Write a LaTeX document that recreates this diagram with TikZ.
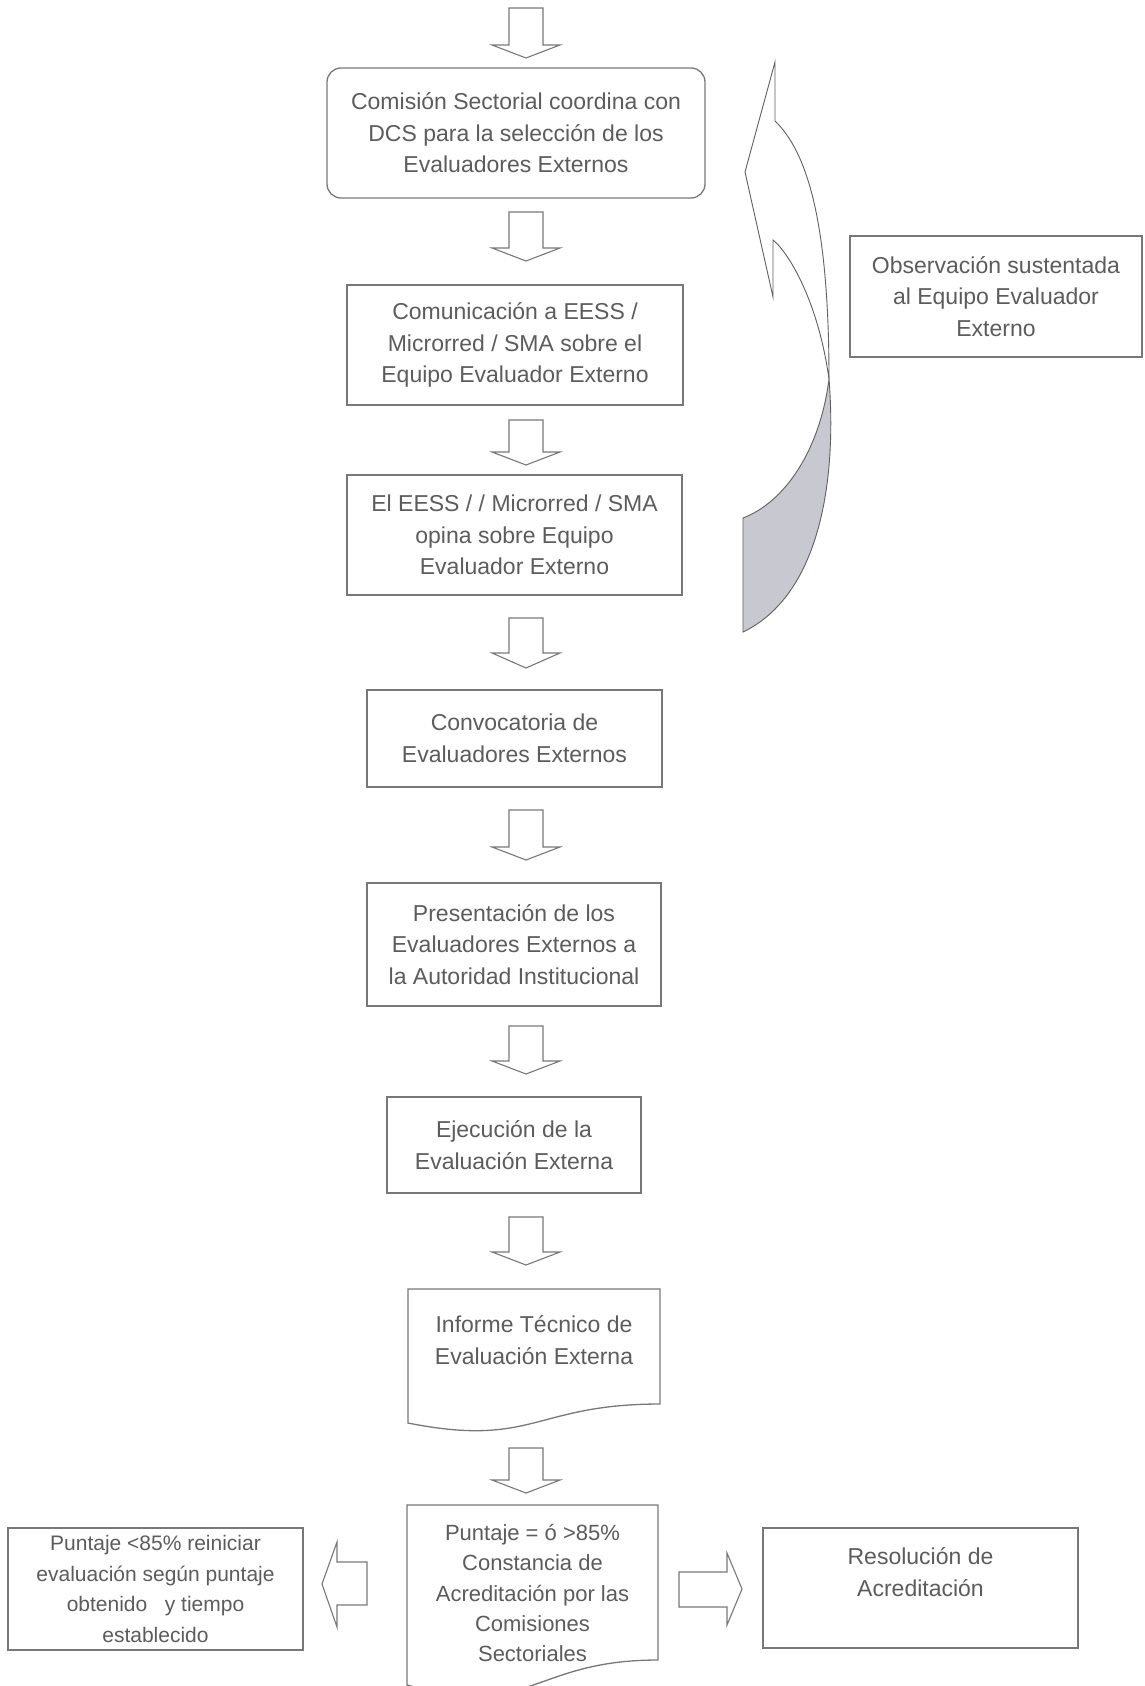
\documentclass[tikz,border=0pt]{standalone}
\usepackage{fontspec}
\setmainfont{Liberation Sans}
\definecolor{txtgray}{HTML}{5C5C5C}
\definecolor{linegray}{HTML}{787878}
\definecolor{shadegray}{HTML}{C8C8D0}
\newcommand\blockdown[4]{%
  \draw[blockarrow] ({#1-17},#2) -- ({#1+17},#2) -- ({#1+17},#3) -- ({#1+34},#3) -- (#1,#4) -- ({#1-34},#3) -- ({#1-17},#3) -- cycle;}
\tikzset{
  box/.style={draw=linegray, line width=1.3pt, fill=white, align=center, text=txtgray,
    inner sep=0pt, font=\fontsize{23}{31.5}\selectfont},
  plain/.style={align=center, text=txtgray, inner sep=0pt, font=\fontsize{23}{31.5}\selectfont},
  blockarrow/.style={draw=linegray, line width=1.1pt, fill=white, line join=miter},
  curvearrow/.style={draw=linegray!80!black, line width=0.9pt},
}
\begin{document}
\begin{tikzpicture}[x=1pt,y=-1pt]
\useasboundingbox (0,0) rectangle (1144,1686);
\fill[white] (0,0) rectangle (1144,1686);
\clip (0,0) rectangle (1144,1686);

% main column
\node[box, rounded corners=14pt, minimum width=378pt, minimum height=130pt] (b1) at (516,133)
  {Comisión Sectorial coordina con\\DCS para la selección de los\\Evaluadores Externos};
\node[box, minimum width=336pt, minimum height=120pt] (b2) at (515,345)
  {Comunicación a EESS /\\Microrred / SMA sobre el\\Equipo Evaluador Externo};
\node[box, minimum width=335pt, minimum height=120pt] (b3) at (514.5,535)
  {El EESS / / Microrred / SMA\\opina sobre Equipo\\Evaluador Externo};
\node[box, minimum width=295pt, minimum height=97pt] (b4) at (514.5,738.5)
  {Convocatoria de\\Evaluadores Externos};
\node[box, minimum width=294pt, minimum height=123pt] (b5) at (514,944.5)
  {Presentación de los\\Evaluadores Externos a\\la Autoridad Institucional};
\node[box, minimum width=254pt, minimum height=96pt] (b6) at (514,1145)
  {Ejecución de la\\Evaluación Externa};

% document shape: Informe
\draw[draw=linegray, line width=1.3pt, fill=white]
  (408,1289) -- (660,1289) -- (660,1404)
  .. controls (534,1404) and (534,1448) .. (408,1423) -- cycle;
\node[plain] (b7) at (534,1340) {Informe Técnico de\\Evaluación Externa};

% document shape: Puntaje
\draw[draw=linegray, line width=1.3pt, fill=white]
  (407,1505) -- (658,1505) -- (658,1660)
  .. controls (532.5,1660) and (532.5,1719) .. (407,1685) -- cycle;
\node[plain, font=\fontsize{22}{30.2}\selectfont] (b8) at (532.5,1593)
  {Puntaje = ó >85\%\\Constancia de\\Acreditación por las\\Comisiones\\Sectoriales};

% side boxes
\node[box, font=\fontsize{21}{30.6}\selectfont, minimum width=295pt, minimum height=122pt] (lft) at (155.5,1589)
  {Puntaje <85\% reiniciar\\evaluación según puntaje\\obtenido\ \ \ y tiempo\\establecido};
\node[box, minimum width=315pt, minimum height=120pt] (res) at (920.5,1588) {};
\node[plain] (restxt) at (920.5,1572) {Resolución de\\Acreditación};
\node[box, minimum width=292pt, minimum height=121pt] (obs) at (996,296.5)
  {Observación sustentada\\al Equipo Evaluador\\Externo};

% down block arrows
\blockdown{526}{8}{45}{58}
\blockdown{526}{212}{248}{261}
\blockdown{526}{420}{452}{465}
\blockdown{526}{618}{653}{668}
\blockdown{526}{810}{847}{860}
\blockdown{526}{1026}{1061}{1074}
\blockdown{526}{1217}{1252}{1265}
\blockdown{526}{1448}{1480}{1493}

% left and right block arrows
\draw[blockarrow] (367,1562) -- (337,1562) -- (337,1542) -- (322,1584) -- (337,1627) -- (337,1605) -- (367,1605) -- cycle;
\draw[blockarrow] (679,1572) -- (727,1572) -- (727,1553) -- (742,1589) -- (727,1625) -- (727,1607) -- (679,1607) -- cycle;

% curved return arrow
\draw[curvearrow, fill=white]
  (775,62) -- (775,121)
  .. controls (805,150) and (829,215) .. (829,379)
  .. controls (818,300) and (788,252) .. (773,240)
  -- (773,297) -- (745,172) -- cycle;
\draw[curvearrow, fill=shadegray]
  (743,518) .. controls (785,502) and (820,450) .. (829,379)
  .. controls (837,480) and (820,595) .. (743,632) -- cycle;
\end{tikzpicture}
\end{document}
